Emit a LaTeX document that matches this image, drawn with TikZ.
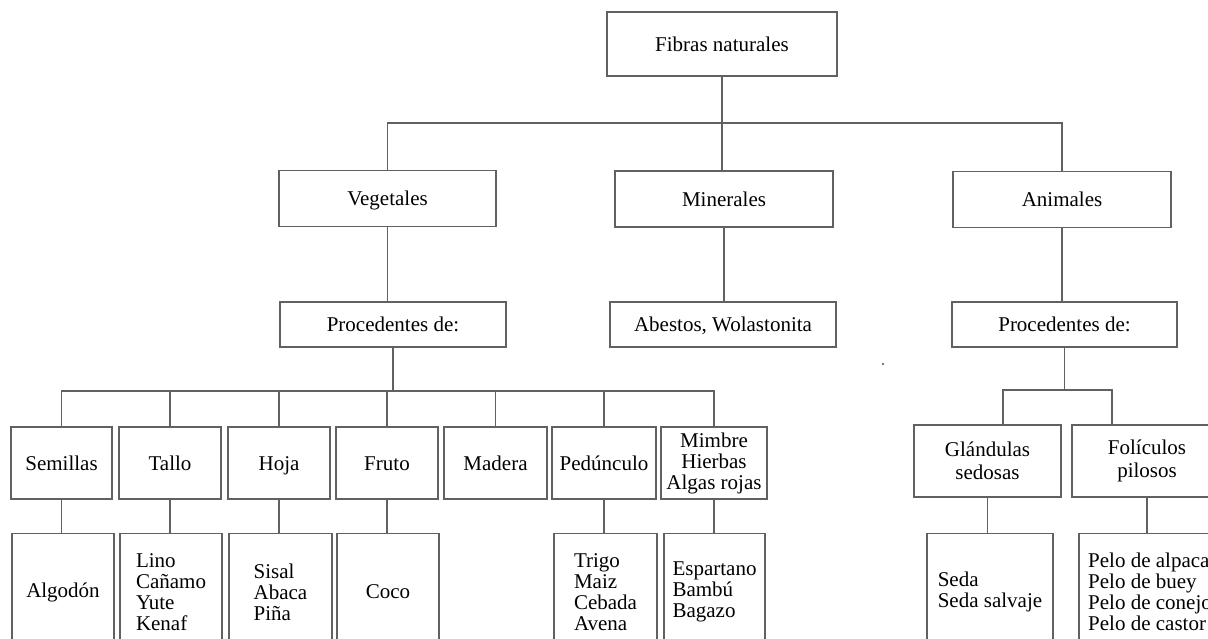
\documentclass[tikz,border=0pt]{standalone}
\usepackage{fontspec}
\setmainfont{Liberation Serif}
\begin{document}
\begin{tikzpicture}[x=1pt,y=-1pt,
  bx/.style={draw=black!62, line width=1.2pt, inner sep=0pt, fill=white,
    font=\fontsize{21}{21}\selectfont, text=black},
  one/.style={text height=14pt, text depth=0pt},
  rtwo/.style={bx, one, minimum height=56pt},
  rthree/.style={bx, one, minimum height=45pt},
  rfour/.style={bx, minimum height=72pt, align=center},
  rfive/.style={bx, minimum height=117pt, anchor=north, align=left},
  ln/.style={draw=black!62, line width=1.2pt}]
\useasboundingbox (0,0) rectangle (1208,638);
\clip (0,0) rectangle (1208,638);
\fill[white] (0,0) rectangle (1208,638);

% level 1
\node[bx, one, minimum width=230pt, minimum height=64pt] (fib) at (722,44) {Fibras naturales};
% level 2
\node[rtwo, minimum width=217pt] (veg) at (387.5,198.5) {Vegetales};
\node[rtwo, minimum width=218pt] (min) at (724,199) {Minerales};
\node[rtwo, minimum width=218pt] (ani) at (1062,199.5) {Animales};
% level 3
\node[rthree, minimum width=226pt] (procV) at (393,324.5) {Procedentes de:};
\node[rthree, minimum width=226pt] (abe) at (723,324.5) {Abestos, Wolastonita};
\node[rthree, minimum width=225pt] (procA) at (1064.5,324.5) {Procedentes de:};
% level 4
\node[rfour, one, minimum width=101pt] (sem) at (61.5,463) {Semillas};
\node[rfour, one, minimum width=102pt] (tal) at (170,463) {Tallo};
\node[rfour, one, minimum width=102pt] (hoj) at (279,463) {Hoja};
\node[rfour, one, minimum width=102pt] (fru) at (387,463) {Fruto};
\node[rfour, one, minimum width=103pt] (mad) at (495.5,463) {Madera};
\node[rfour, one, minimum width=104pt] (ped) at (604,463) {Pedúnculo};
\node[rfour, minimum width=106pt] (mim) at (714,463) {Mimbre\\Hierbas\\Algas rojas};
\node[rfour, font=\fontsize{21}{22.5}\selectfont, minimum width=147pt] (gla) at (987.5,461) {Glándulas\\sedosas};
\node[rfour, font=\fontsize{21}{22.5}\selectfont, minimum width=150pt] (fol) at (1147,461) {Folículos\\pilosos};
% level 5
\node[rfive, minimum width=102pt] (alg) at (63,533) {Algodón};
\node[rfive, minimum width=102pt] (lin) at (171,533) {Lino\\Cañamo\\Yute\\Kenaf};
\node[rfive, minimum width=103pt] (sis) at (280.5,533) {Sisal\\Abaca\\Piña};
\node[rfive, minimum width=102pt] (coc) at (388,533) {Coco};
\node[rfive, minimum width=103pt] (tri) at (605.5,533) {Trigo\\Maiz\\Cebada\\Avena};
\node[rfive, minimum width=101pt] (esp) at (714.5,533) {Espartano\\Bambú\\Bagazo};
\node[rfive, minimum width=126pt] (sed) at (990,533) {Seda\\Seda salvaje};
\node[rfive, minimum width=142pt] (pel) at (1150,533) {Pelo de alpaca\\Pelo de buey\\Pelo de conejo\\Pelo de castor};

% bus coordinates
\coordinate (b1) at (722,123);
\coordinate (b2) at (392,391);
\coordinate (b3) at (1059,390);

% connectors level 1-2
\draw[ln] (fib.south) -- (fib.south |- min.north);
\draw[ln] (veg.north) -- (veg.north |- b1) -- (ani.north |- b1) -- (ani.north);
% level 2-3
\draw[ln] (veg.south) -- (veg.south |- procV.north);
\draw[ln] (min.south) -- (min.south |- abe.north);
\draw[ln] (ani.south) -- (ani.south |- procA.north);
% vegetal bus
\draw[ln] (procV.south) -- (procV.south |- b2);
\draw[ln] (sem.north) -- (sem.north |- b2) -- (mim.north |- b2) -- (mim.north);
\foreach \n in {tal,hoj,fru,mad,ped}{
  \draw[ln] (\n.north) -- (\n.north |- b2);
}
% level 4-5
\foreach \a/\b in {sem/alg,tal/lin,hoj/sis,fru/coc,ped/tri,mim/esp,gla/sed,fol/pel}{
  \draw[ln] (\a.south) -- (\a.south |- \b.north);
}
% animal bus
\draw[ln] (procA.south) -- (procA.south |- b3);
\draw[ln] ([xshift=15.5pt]gla.north) -- ([xshift=15.5pt]gla.north |- b3)
  -- ([xshift=-35pt]fol.north |- b3) -- ([xshift=-35pt]fol.north);

% stray dot
\fill[black!70] (883,364) circle (1.2pt);
\end{tikzpicture}
\end{document}
